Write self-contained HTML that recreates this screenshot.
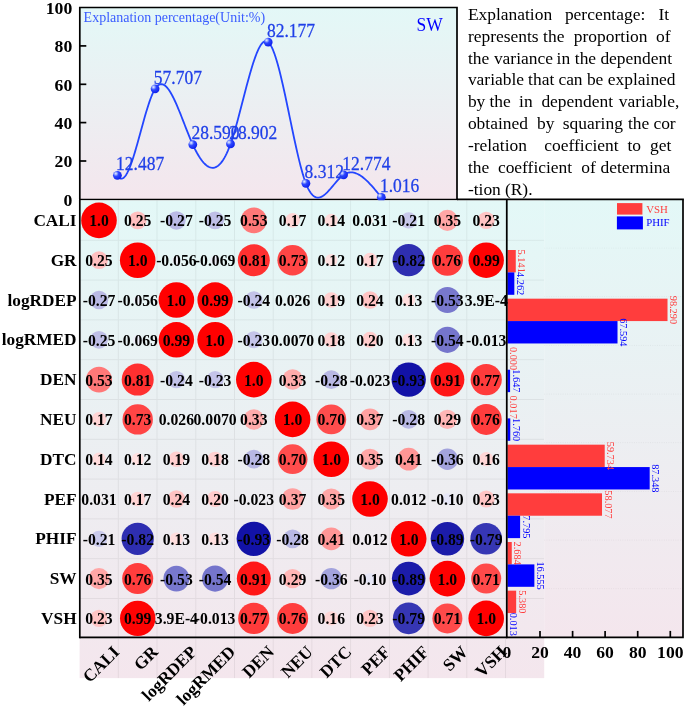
<!DOCTYPE html>
<html><head><meta charset="utf-8"><title>Correlation explanation</title>
<style>html,body{margin:0;padding:0;background:#fff}svg{display:block}text{font-family:"Liberation Serif", "Times New Roman", serif}</style></head><body>
<svg width="685" height="706" viewBox="0 0 685 706">
<defs>
<linearGradient id="g1" x1="0" y1="0" x2="0" y2="1"><stop offset="0" stop-color="#e3f8f7"/><stop offset="1" stop-color="#f4e6ed"/></linearGradient>
<radialGradient id="ball" cx="0.32" cy="0.3" r="0.8"><stop offset="0" stop-color="#e6ecff"/><stop offset="0.12" stop-color="#b4c4ff"/><stop offset="0.4" stop-color="#2e48ff"/><stop offset="1" stop-color="#0818e8"/></radialGradient>
<clipPath id="ctop"><rect x="79.8" y="7.5" width="380.2" height="193.0"/></clipPath>
</defs>
<rect width="685" height="706" fill="#fff"/>
<rect x="79.8" y="7.5" width="377.2" height="191.9" fill="url(#g1)"/>
<g stroke="#000" stroke-width="1.7" fill="none">
<path d="M79.8 199.4 V7.5 H457.0 V199.4"/>
<path d="M79.0 199.55 H457.9" stroke-width="1.4"/>
<path d="M79.8 161.0 h6.5"/>
<path d="M79.8 122.6 h6.5"/>
<path d="M79.8 84.3 h6.5"/>
<path d="M79.8 45.9 h6.5"/>
</g>
<g font-weight="bold" font-size="17.7" text-anchor="end" fill="#000">
<text x="72.3" y="205.6">0</text>
<text x="72.3" y="167.2">20</text>
<text x="72.3" y="128.8">40</text>
<text x="72.3" y="90.5">60</text>
<text x="72.3" y="52.1">80</text>
<text x="72.3" y="13.7">100</text>
</g>
<text x="83.6" y="21.8" font-size="14" fill="#3a5cff">Explanation percentage(Unit:%)</text>
<text x="416.6" y="28.44" font-size="17.5" fill="#0000ff" transform="scale(1 1.09)">SW</text>
<g clip-path="url(#ctop)">
<path d="M117.40 175.36 L118.50 176.96 L119.61 178.03 L120.71 178.58 L121.82 178.66 L122.92 178.27 L124.03 177.46 L125.13 176.25 L126.23 174.66 L127.34 172.72 L128.44 170.46 L129.55 167.90 L130.65 165.08 L131.75 162.01 L132.86 158.73 L133.96 155.26 L135.07 151.63 L136.17 147.87 L137.28 143.99 L138.38 140.04 L139.48 136.03 L140.59 131.99 L141.69 127.95 L142.80 123.94 L143.90 119.97 L145.00 116.09 L146.11 112.31 L147.21 108.67 L148.32 105.18 L149.42 101.88 L150.53 98.80 L151.63 95.95 L152.73 93.37 L153.84 91.08 L154.94 89.11 L156.05 87.48 L157.15 86.19 L158.25 85.23 L159.36 84.58 L160.46 84.23 L161.57 84.16 L162.67 84.36 L163.78 84.83 L164.88 85.53 L165.98 86.47 L167.09 87.63 L168.19 89.00 L169.30 90.55 L170.40 92.28 L171.51 94.18 L172.61 96.23 L173.71 98.42 L174.82 100.74 L175.92 103.16 L177.03 105.68 L178.13 108.29 L179.23 110.97 L180.34 113.71 L181.44 116.50 L182.55 119.31 L183.65 122.14 L184.76 124.98 L185.86 127.81 L186.96 130.62 L188.07 133.39 L189.17 136.11 L190.28 138.78 L191.38 141.36 L192.48 143.86 L193.59 146.26 L194.69 148.55 L195.80 150.72 L196.90 152.79 L198.01 154.73 L199.11 156.56 L200.21 158.26 L201.32 159.83 L202.42 161.27 L203.53 162.58 L204.63 163.75 L205.73 164.77 L206.84 165.66 L207.94 166.40 L209.05 166.99 L210.15 167.42 L211.26 167.70 L212.36 167.81 L213.46 167.77 L214.57 167.56 L215.67 167.17 L216.78 166.62 L217.88 165.89 L218.98 164.97 L220.09 163.88 L221.19 162.60 L222.30 161.13 L223.40 159.47 L224.51 157.61 L225.61 155.55 L226.71 153.29 L227.82 150.82 L228.92 148.15 L230.03 145.26 L231.13 142.16 L232.24 138.86 L233.34 135.36 L234.44 131.70 L235.55 127.90 L236.65 123.97 L237.76 119.92 L238.86 115.80 L239.96 111.60 L241.07 107.35 L242.17 103.08 L243.28 98.79 L244.38 94.51 L245.49 90.27 L246.59 86.07 L247.69 81.94 L248.80 77.90 L249.90 73.96 L251.01 70.15 L252.11 66.49 L253.21 63.00 L254.32 59.69 L255.42 56.59 L256.53 53.71 L257.63 51.07 L258.74 48.70 L259.84 46.62 L260.94 44.83 L262.05 43.37 L263.15 42.25 L264.26 41.50 L265.36 41.12 L266.46 41.15 L267.57 41.59 L268.67 42.48 L269.78 43.81 L270.88 45.55 L271.99 47.69 L273.09 50.20 L274.19 53.06 L275.30 56.25 L276.40 59.74 L277.51 63.51 L278.61 67.54 L279.72 71.80 L280.82 76.27 L281.92 80.93 L283.03 85.75 L284.13 90.71 L285.24 95.80 L286.34 100.98 L287.44 106.23 L288.55 111.52 L289.65 116.85 L290.76 122.18 L291.86 127.49 L292.97 132.75 L294.07 137.95 L295.17 143.06 L296.28 148.06 L297.38 152.92 L298.49 157.62 L299.59 162.14 L300.69 166.46 L301.80 170.54 L302.90 174.38 L304.01 177.94 L305.11 181.21 L306.22 184.16 L307.32 186.77 L308.42 189.07 L309.53 191.06 L310.63 192.76 L311.74 194.18 L312.84 195.33 L313.94 196.23 L315.05 196.90 L316.15 197.34 L317.26 197.56 L318.36 197.59 L319.47 197.44 L320.57 197.11 L321.67 196.63 L322.78 196.00 L323.88 195.25 L324.99 194.37 L326.09 193.39 L327.19 192.33 L328.30 191.18 L329.40 189.98 L330.51 188.72 L331.61 187.43 L332.72 186.11 L333.82 184.79 L334.92 183.47 L336.03 182.17 L337.13 180.90 L338.24 179.68 L339.34 178.51 L340.45 177.42 L341.55 176.41 L342.65 175.50 L343.76 174.71 L344.86 174.03 L345.97 173.48 L347.07 173.04 L348.17 172.71 L349.28 172.50 L350.38 172.39 L351.49 172.38 L352.59 172.46 L353.70 172.65 L354.80 172.92 L355.90 173.28 L357.01 173.73 L358.11 174.25 L359.22 174.85 L360.32 175.53 L361.42 176.27 L362.53 177.08 L363.63 177.95 L364.74 178.88 L365.84 179.86 L366.95 180.89 L368.05 181.97 L369.15 183.10 L370.26 184.26 L371.36 185.46 L372.47 186.70 L373.57 187.96 L374.67 189.25 L375.78 190.56 L376.88 191.89 L377.99 193.23 L379.09 194.58 L380.20 195.94 L381.30 197.31" fill="none" stroke="#2346ff" stroke-width="1.8" stroke-linejoin="round"/>
<circle cx="117.40" cy="175.36" r="4.4" fill="url(#ball)"/>
<circle cx="155.10" cy="88.86" r="4.4" fill="url(#ball)"/>
<circle cx="192.80" cy="144.56" r="4.4" fill="url(#ball)"/>
<circle cx="230.50" cy="143.96" r="4.4" fill="url(#ball)"/>
<circle cx="268.20" cy="42.05" r="4.4" fill="url(#ball)"/>
<circle cx="305.90" cy="183.35" r="4.4" fill="url(#ball)"/>
<circle cx="343.60" cy="174.81" r="4.4" fill="url(#ball)"/>
<circle cx="381.30" cy="197.31" r="4.4" fill="url(#ball)"/>
</g>
<g font-size="17.5" fill="#1f3fe8" stroke="#1f3fe8" stroke-width="0.25" transform="scale(1 1.090)">
<text x="116.1" y="156.02">12.487</text>
<text x="153.8" y="76.66">57.707</text>
<text x="191.5" y="127.76">28.590</text>
<text x="229.2" y="127.21">28.902</text>
<text x="266.9" y="33.71">82.177</text>
<text x="304.6" y="163.35">8.312</text>
<text x="342.3" y="155.52">12.774</text>
<text x="380.0" y="176.15">1.016</text>
</g>
<g font-size="17.45" fill="#000">
<text y="19.8"><tspan x="467.9">Explanation</tspan> <tspan x="564.9">percentage:</tspan> <tspan x="658.5">It</tspan></text>
<text y="41.7"><tspan x="467.9">represents</tspan> <tspan x="543.1">the</tspan> <tspan x="573.8">proportion</tspan> <tspan x="656.0">of</tspan></text>
<text y="63.5"><tspan x="467.9">the</tspan> <tspan x="493.9">variance</tspan> <tspan x="556.6">in</tspan> <tspan x="574.8">the</tspan> <tspan x="600.4">dependent</tspan></text>
<text y="85.3"><tspan x="467.9">variable</tspan> <tspan x="528.1">that</tspan> <tspan x="558.4">can</tspan> <tspan x="586.9">be</tspan> <tspan x="607.8">explained</tspan></text>
<text y="107.1"><tspan x="467.9">by</tspan> <tspan x="489.4">the</tspan> <tspan x="519.1">in</tspan> <tspan x="541.4">dependent</tspan> <tspan x="618.8">variable,</tspan></text>
<text y="129.0"><tspan x="467.9">obtained</tspan> <tspan x="537.1">by</tspan> <tspan x="562.8">squaring</tspan> <tspan x="628.0">the</tspan> <tspan x="653.4">cor</tspan></text>
<text y="150.8"><tspan x="467.9">-relation</tspan> <tspan x="544.3">coefficient</tspan> <tspan x="627.4">to</tspan> <tspan x="650.1">get</tspan></text>
<text y="172.6"><tspan x="467.9">the</tspan> <tspan x="497.9">coefficient</tspan> <tspan x="581.3">of</tspan> <tspan x="600.5">determina</tspan></text>
<text y="194.6"><tspan x="467.9">-tion</tspan> <tspan x="504.9">(R).</tspan></text>
</g>
<rect x="79.6" y="200.5" width="464.6" height="477.6" fill="url(#g1)"/>
<g stroke="#000" stroke-width="1" fill="none" opacity="0.055">
<path d="M118.3 200.5 V678.1"/>
<path d="M157.0 200.5 V678.1"/>
<path d="M195.8 200.5 V678.1"/>
<path d="M234.5 200.5 V678.1"/>
<path d="M273.2 200.5 V678.1"/>
<path d="M311.9 200.5 V678.1"/>
<path d="M350.6 200.5 V678.1"/>
<path d="M389.4 200.5 V678.1"/>
<path d="M428.1 200.5 V678.1"/>
<path d="M466.8 200.5 V678.1"/>
<path d="M505.5 200.5 V678.1"/>
<path d="M79.6 240.3 H544.2"/>
<path d="M79.6 280.1 H544.2"/>
<path d="M79.6 319.9 H544.2"/>
<path d="M79.6 359.7 H544.2"/>
<path d="M79.6 399.5 H544.2"/>
<path d="M79.6 439.3 H544.2"/>
<path d="M79.6 479.1 H544.2"/>
<path d="M79.6 518.9 H544.2"/>
<path d="M79.6 558.7 H544.2"/>
<path d="M79.6 598.5 H544.2"/>
<path d="M79.6 638.3 H544.2"/>
</g>
<circle cx="99.0" cy="220.4" r="17.80" fill="#ff0000"/>
<circle cx="137.7" cy="220.4" r="8.90" fill="#ffbfbf"/>
<circle cx="176.4" cy="220.4" r="9.25" fill="#babae5"/>
<circle cx="215.1" cy="220.4" r="8.90" fill="#bfbfe7"/>
<circle cx="253.8" cy="220.4" r="12.96" fill="#ff7878"/>
<circle cx="292.6" cy="220.4" r="7.34" fill="#ffd4d4"/>
<circle cx="331.3" cy="220.4" r="6.66" fill="#ffdbdb"/>
<circle cx="370.0" cy="220.4" r="3.13" fill="#fff7f7"/>
<circle cx="408.7" cy="220.4" r="8.16" fill="#c9c9eb"/>
<circle cx="447.4" cy="220.4" r="10.53" fill="#ffa6a6"/>
<circle cx="486.2" cy="220.4" r="8.54" fill="#ffc4c4"/>
<circle cx="99.0" cy="260.2" r="8.90" fill="#ffbfbf"/>
<circle cx="137.7" cy="260.2" r="17.80" fill="#ff0000"/>
<circle cx="176.4" cy="260.2" r="4.21" fill="#f1f1fa"/>
<circle cx="215.1" cy="260.2" r="4.68" fill="#ededf8"/>
<circle cx="253.8" cy="260.2" r="16.02" fill="#ff3030"/>
<circle cx="292.6" cy="260.2" r="15.21" fill="#ff4545"/>
<circle cx="331.3" cy="260.2" r="6.17" fill="#ffe0e0"/>
<circle cx="370.0" cy="260.2" r="7.34" fill="#ffd4d4"/>
<circle cx="408.7" cy="260.2" r="16.12" fill="#2e2eb1"/>
<circle cx="447.4" cy="260.2" r="15.52" fill="#ff3d3d"/>
<circle cx="486.2" cy="260.2" r="17.71" fill="#ff0303"/>
<circle cx="99.0" cy="300.0" r="9.25" fill="#babae5"/>
<circle cx="137.7" cy="300.0" r="4.21" fill="#f1f1fa"/>
<circle cx="176.4" cy="300.0" r="17.80" fill="#ff0000"/>
<circle cx="215.1" cy="300.0" r="17.71" fill="#ff0303"/>
<circle cx="253.8" cy="300.0" r="8.72" fill="#c2c2e8"/>
<circle cx="292.6" cy="300.0" r="2.87" fill="#fff8f8"/>
<circle cx="331.3" cy="300.0" r="7.76" fill="#ffcfcf"/>
<circle cx="370.0" cy="300.0" r="8.72" fill="#ffc2c2"/>
<circle cx="408.7" cy="300.0" r="6.42" fill="#ffdede"/>
<circle cx="447.4" cy="300.0" r="12.96" fill="#7878cd"/>
<circle cx="99.0" cy="339.8" r="8.90" fill="#bfbfe7"/>
<circle cx="137.7" cy="339.8" r="4.68" fill="#ededf8"/>
<circle cx="176.4" cy="339.8" r="17.71" fill="#ff0303"/>
<circle cx="215.1" cy="339.8" r="17.80" fill="#ff0000"/>
<circle cx="253.8" cy="339.8" r="8.54" fill="#c4c4e9"/>
<circle cx="292.6" cy="339.8" r="1.49" fill="#fffdfd"/>
<circle cx="331.3" cy="339.8" r="7.55" fill="#ffd1d1"/>
<circle cx="370.0" cy="339.8" r="7.96" fill="#ffcccc"/>
<circle cx="408.7" cy="339.8" r="6.42" fill="#ffdede"/>
<circle cx="447.4" cy="339.8" r="13.08" fill="#7575cc"/>
<circle cx="486.2" cy="339.8" r="2.03" fill="#fcfcfe"/>
<circle cx="99.0" cy="379.6" r="12.96" fill="#ff7878"/>
<circle cx="137.7" cy="379.6" r="16.02" fill="#ff3030"/>
<circle cx="176.4" cy="379.6" r="8.72" fill="#c2c2e8"/>
<circle cx="215.1" cy="379.6" r="8.54" fill="#c4c4e9"/>
<circle cx="253.8" cy="379.6" r="17.80" fill="#ff0000"/>
<circle cx="292.6" cy="379.6" r="10.23" fill="#ffabab"/>
<circle cx="331.3" cy="379.6" r="9.42" fill="#b8b8e4"/>
<circle cx="370.0" cy="379.6" r="2.70" fill="#f9f9fd"/>
<circle cx="408.7" cy="379.6" r="17.17" fill="#1212a7"/>
<circle cx="447.4" cy="379.6" r="16.98" fill="#ff1717"/>
<circle cx="486.2" cy="379.6" r="15.62" fill="#ff3b3b"/>
<circle cx="99.0" cy="419.4" r="7.34" fill="#ffd4d4"/>
<circle cx="137.7" cy="419.4" r="15.21" fill="#ff4545"/>
<circle cx="176.4" cy="419.4" r="2.87" fill="#fff8f8"/>
<circle cx="215.1" cy="419.4" r="1.49" fill="#fffdfd"/>
<circle cx="253.8" cy="419.4" r="10.23" fill="#ffabab"/>
<circle cx="292.6" cy="419.4" r="17.80" fill="#ff0000"/>
<circle cx="331.3" cy="419.4" r="14.89" fill="#ff4d4d"/>
<circle cx="370.0" cy="419.4" r="10.83" fill="#ffa1a1"/>
<circle cx="408.7" cy="419.4" r="9.42" fill="#b8b8e4"/>
<circle cx="447.4" cy="419.4" r="9.59" fill="#ffb5b5"/>
<circle cx="486.2" cy="419.4" r="15.52" fill="#ff3d3d"/>
<circle cx="99.0" cy="459.2" r="6.66" fill="#ffdbdb"/>
<circle cx="137.7" cy="459.2" r="6.17" fill="#ffe0e0"/>
<circle cx="176.4" cy="459.2" r="7.76" fill="#ffcfcf"/>
<circle cx="215.1" cy="459.2" r="7.55" fill="#ffd1d1"/>
<circle cx="253.8" cy="459.2" r="9.42" fill="#b8b8e4"/>
<circle cx="292.6" cy="459.2" r="14.89" fill="#ff4d4d"/>
<circle cx="331.3" cy="459.2" r="17.80" fill="#ff0000"/>
<circle cx="370.0" cy="459.2" r="10.53" fill="#ffa6a6"/>
<circle cx="408.7" cy="459.2" r="11.40" fill="#ff9696"/>
<circle cx="447.4" cy="459.2" r="10.68" fill="#a3a3dd"/>
<circle cx="486.2" cy="459.2" r="7.12" fill="#ffd6d6"/>
<circle cx="99.0" cy="499.0" r="3.13" fill="#fff7f7"/>
<circle cx="137.7" cy="499.0" r="7.34" fill="#ffd4d4"/>
<circle cx="176.4" cy="499.0" r="8.72" fill="#ffc2c2"/>
<circle cx="215.1" cy="499.0" r="7.96" fill="#ffcccc"/>
<circle cx="253.8" cy="499.0" r="2.70" fill="#f9f9fd"/>
<circle cx="292.6" cy="499.0" r="10.83" fill="#ffa1a1"/>
<circle cx="331.3" cy="499.0" r="10.53" fill="#ffa6a6"/>
<circle cx="370.0" cy="499.0" r="17.80" fill="#ff0000"/>
<circle cx="408.7" cy="499.0" r="1.95" fill="#fffcfc"/>
<circle cx="447.4" cy="499.0" r="5.63" fill="#e6e6f6"/>
<circle cx="486.2" cy="499.0" r="8.54" fill="#ffc4c4"/>
<circle cx="99.0" cy="538.8" r="8.16" fill="#c9c9eb"/>
<circle cx="137.7" cy="538.8" r="16.12" fill="#2e2eb1"/>
<circle cx="176.4" cy="538.8" r="6.42" fill="#ffdede"/>
<circle cx="215.1" cy="538.8" r="6.42" fill="#ffdede"/>
<circle cx="253.8" cy="538.8" r="17.17" fill="#1212a7"/>
<circle cx="292.6" cy="538.8" r="9.42" fill="#b8b8e4"/>
<circle cx="331.3" cy="538.8" r="11.40" fill="#ff9696"/>
<circle cx="370.0" cy="538.8" r="1.95" fill="#fffcfc"/>
<circle cx="408.7" cy="538.8" r="17.80" fill="#ff0000"/>
<circle cx="447.4" cy="538.8" r="16.79" fill="#1c1caa"/>
<circle cx="486.2" cy="538.8" r="15.82" fill="#3636b4"/>
<circle cx="99.0" cy="578.6" r="10.53" fill="#ffa6a6"/>
<circle cx="137.7" cy="578.6" r="15.52" fill="#ff3d3d"/>
<circle cx="176.4" cy="578.6" r="12.96" fill="#7878cd"/>
<circle cx="215.1" cy="578.6" r="13.08" fill="#7575cc"/>
<circle cx="253.8" cy="578.6" r="16.98" fill="#ff1717"/>
<circle cx="292.6" cy="578.6" r="9.59" fill="#ffb5b5"/>
<circle cx="331.3" cy="578.6" r="10.68" fill="#a3a3dd"/>
<circle cx="370.0" cy="578.6" r="5.63" fill="#e6e6f6"/>
<circle cx="408.7" cy="578.6" r="16.79" fill="#1c1caa"/>
<circle cx="447.4" cy="578.6" r="17.80" fill="#ff0000"/>
<circle cx="486.2" cy="578.6" r="15.00" fill="#ff4a4a"/>
<circle cx="99.0" cy="618.4" r="8.54" fill="#ffc4c4"/>
<circle cx="137.7" cy="618.4" r="17.71" fill="#ff0303"/>
<circle cx="215.1" cy="618.4" r="2.03" fill="#fcfcfe"/>
<circle cx="253.8" cy="618.4" r="15.62" fill="#ff3b3b"/>
<circle cx="292.6" cy="618.4" r="15.52" fill="#ff3d3d"/>
<circle cx="331.3" cy="618.4" r="7.12" fill="#ffd6d6"/>
<circle cx="370.0" cy="618.4" r="8.54" fill="#ffc4c4"/>
<circle cx="408.7" cy="618.4" r="15.82" fill="#3636b4"/>
<circle cx="447.4" cy="618.4" r="15.00" fill="#ff4a4a"/>
<circle cx="486.2" cy="618.4" r="17.80" fill="#ff0000"/>
<rect x="544.2" y="199.4" width="138.8" height="438.0" fill="url(#g1)"/>
<g stroke="#000" stroke-width="0.8" stroke-dasharray="1 1.3" fill="none" opacity="0.06">
<path d="M544.2 248.1 H683.0"/>
<path d="M544.2 296.7 H683.0"/>
<path d="M544.2 345.4 H683.0"/>
<path d="M544.2 394.1 H683.0"/>
<path d="M544.2 442.7 H683.0"/>
<path d="M544.2 491.4 H683.0"/>
<path d="M544.2 540.1 H683.0"/>
<path d="M544.2 588.7 H683.0"/>
</g>
<rect x="507.4" y="250.00" width="8.37" height="22.40" fill="#ff3d3d"/>
<rect x="507.4" y="272.40" width="6.94" height="22.40" fill="#0000ff"/>
<rect x="507.4" y="298.67" width="160.11" height="22.40" fill="#ff3d3d"/>
<rect x="507.4" y="321.07" width="110.11" height="22.40" fill="#0000ff"/>
<rect x="507.4" y="369.73" width="2.68" height="22.40" fill="#0000ff"/>
<rect x="507.4" y="418.40" width="2.87" height="22.40" fill="#0000ff"/>
<rect x="507.4" y="444.67" width="97.31" height="22.40" fill="#ff3d3d"/>
<rect x="507.4" y="467.07" width="142.29" height="22.40" fill="#0000ff"/>
<rect x="507.4" y="493.33" width="94.61" height="22.40" fill="#ff3d3d"/>
<rect x="507.4" y="515.73" width="12.70" height="22.40" fill="#0000ff"/>
<rect x="507.4" y="542.00" width="4.37" height="22.40" fill="#ff3d3d"/>
<rect x="507.4" y="564.40" width="26.97" height="22.40" fill="#0000ff"/>
<rect x="507.4" y="590.67" width="8.76" height="22.40" fill="#ff3d3d"/>
<g font-size="10.3" text-anchor="middle">
<text transform="translate(518.4 261.2) rotate(90)" fill="#ff3d3d">5.141</text>
<text transform="translate(516.9 283.6) rotate(90)" fill="#0000ff">4.262</text>
<text transform="translate(670.1 309.9) rotate(90)" fill="#ff3d3d">98.290</text>
<text transform="translate(620.1 332.3) rotate(90)" fill="#0000ff">67.594</text>
<text transform="translate(510.0 358.5) rotate(90)" fill="#ff3d3d">0.000</text>
<text transform="translate(512.7 380.9) rotate(90)" fill="#0000ff">1.647</text>
<text transform="translate(510.0 407.2) rotate(90)" fill="#ff3d3d">0.017</text>
<text transform="translate(512.9 429.6) rotate(90)" fill="#0000ff">1.760</text>
<text transform="translate(607.3 455.9) rotate(90)" fill="#ff3d3d">59.734</text>
<text transform="translate(652.3 478.3) rotate(90)" fill="#0000ff">87.348</text>
<text transform="translate(604.6 504.5) rotate(90)" fill="#ff3d3d">58.077</text>
<text transform="translate(522.7 526.9) rotate(90)" fill="#0000ff">7.795</text>
<text transform="translate(514.4 553.2) rotate(90)" fill="#ff3d3d">2.684</text>
<text transform="translate(537.0 575.6) rotate(90)" fill="#0000ff">16.555</text>
<text transform="translate(518.8 601.9) rotate(90)" fill="#ff3d3d">5.380</text>
<text transform="translate(510.0 624.3) rotate(90)" fill="#0000ff">0.013</text>
</g>
<g font-weight="bold" font-size="15.7" text-anchor="middle" fill="#000" transform="scale(1 1.090)">
<text y="207.71"><tspan x="99.0">1.0</tspan><tspan x="137.7">0.25</tspan><tspan x="176.4">-0.27</tspan><tspan x="215.1">-0.25</tspan><tspan x="253.8">0.53</tspan><tspan x="292.6">0.17</tspan><tspan x="331.3">0.14</tspan><tspan x="370.0">0.031</tspan><tspan x="408.7">-0.21</tspan><tspan x="447.4">0.35</tspan><tspan x="486.2">0.23</tspan></text>
<text y="244.22"><tspan x="99.0">0.25</tspan><tspan x="137.7">1.0</tspan><tspan x="176.4">-0.056</tspan><tspan x="215.1">-0.069</tspan><tspan x="253.8">0.81</tspan><tspan x="292.6">0.73</tspan><tspan x="331.3">0.12</tspan><tspan x="370.0">0.17</tspan><tspan x="408.7">-0.82</tspan><tspan x="447.4">0.76</tspan><tspan x="486.2">0.99</tspan></text>
<text y="280.73"><tspan x="99.0">-0.27</tspan><tspan x="137.7">-0.056</tspan><tspan x="176.4">1.0</tspan><tspan x="215.1">0.99</tspan><tspan x="253.8">-0.24</tspan><tspan x="292.6">0.026</tspan><tspan x="331.3">0.19</tspan><tspan x="370.0">0.24</tspan><tspan x="408.7">0.13</tspan><tspan x="447.4">-0.53</tspan><tspan x="486.2">3.9E-4</tspan></text>
<text y="317.25"><tspan x="99.0">-0.25</tspan><tspan x="137.7">-0.069</tspan><tspan x="176.4">0.99</tspan><tspan x="215.1">1.0</tspan><tspan x="253.8">-0.23</tspan><tspan x="292.6">0.0070</tspan><tspan x="331.3">0.18</tspan><tspan x="370.0">0.20</tspan><tspan x="408.7">0.13</tspan><tspan x="447.4">-0.54</tspan><tspan x="486.2">-0.013</tspan></text>
<text y="353.76"><tspan x="99.0">0.53</tspan><tspan x="137.7">0.81</tspan><tspan x="176.4">-0.24</tspan><tspan x="215.1">-0.23</tspan><tspan x="253.8">1.0</tspan><tspan x="292.6">0.33</tspan><tspan x="331.3">-0.28</tspan><tspan x="370.0">-0.023</tspan><tspan x="408.7">-0.93</tspan><tspan x="447.4">0.91</tspan><tspan x="486.2">0.77</tspan></text>
<text y="390.28"><tspan x="99.0">0.17</tspan><tspan x="137.7">0.73</tspan><tspan x="176.4">0.026</tspan><tspan x="215.1">0.0070</tspan><tspan x="253.8">0.33</tspan><tspan x="292.6">1.0</tspan><tspan x="331.3">0.70</tspan><tspan x="370.0">0.37</tspan><tspan x="408.7">-0.28</tspan><tspan x="447.4">0.29</tspan><tspan x="486.2">0.76</tspan></text>
<text y="426.79"><tspan x="99.0">0.14</tspan><tspan x="137.7">0.12</tspan><tspan x="176.4">0.19</tspan><tspan x="215.1">0.18</tspan><tspan x="253.8">-0.28</tspan><tspan x="292.6">0.70</tspan><tspan x="331.3">1.0</tspan><tspan x="370.0">0.35</tspan><tspan x="408.7">0.41</tspan><tspan x="447.4">-0.36</tspan><tspan x="486.2">0.16</tspan></text>
<text y="463.30"><tspan x="99.0">0.031</tspan><tspan x="137.7">0.17</tspan><tspan x="176.4">0.24</tspan><tspan x="215.1">0.20</tspan><tspan x="253.8">-0.023</tspan><tspan x="292.6">0.37</tspan><tspan x="331.3">0.35</tspan><tspan x="370.0">1.0</tspan><tspan x="408.7">0.012</tspan><tspan x="447.4">-0.10</tspan><tspan x="486.2">0.23</tspan></text>
<text y="499.82"><tspan x="99.0">-0.21</tspan><tspan x="137.7">-0.82</tspan><tspan x="176.4">0.13</tspan><tspan x="215.1">0.13</tspan><tspan x="253.8">-0.93</tspan><tspan x="292.6">-0.28</tspan><tspan x="331.3">0.41</tspan><tspan x="370.0">0.012</tspan><tspan x="408.7">1.0</tspan><tspan x="447.4">-0.89</tspan><tspan x="486.2">-0.79</tspan></text>
<text y="536.33"><tspan x="99.0">0.35</tspan><tspan x="137.7">0.76</tspan><tspan x="176.4">-0.53</tspan><tspan x="215.1">-0.54</tspan><tspan x="253.8">0.91</tspan><tspan x="292.6">0.29</tspan><tspan x="331.3">-0.36</tspan><tspan x="370.0">-0.10</tspan><tspan x="408.7">-0.89</tspan><tspan x="447.4">1.0</tspan><tspan x="486.2">0.71</tspan></text>
<text y="572.84"><tspan x="99.0">0.23</tspan><tspan x="137.7">0.99</tspan><tspan x="176.4">3.9E-4</tspan><tspan x="215.1">-0.013</tspan><tspan x="253.8">0.77</tspan><tspan x="292.6">0.76</tspan><tspan x="331.3">0.16</tspan><tspan x="370.0">0.23</tspan><tspan x="408.7">-0.79</tspan><tspan x="447.4">0.71</tspan><tspan x="486.2">1.0</tspan></text>
</g>
<g stroke="#000" stroke-width="1.7" fill="none">
<path d="M506.8 199.4 V637.4 H683.0 V199.4"/>
<path d="M79.6 637.4 H507.4"/>
<path d="M79.8 199.4 V638.2"/>
<path d="M457.0 199.4 H683.9"/>
<path d="M540.0 637.4 v-6.5"/>
<path d="M572.6 637.4 v-6.5"/>
<path d="M605.1 637.4 v-6.5"/>
<path d="M637.7 637.4 v-6.5"/>
<path d="M670.3 637.4 v-6.5"/>
</g>
<g font-weight="bold" font-size="17.6" text-anchor="middle" fill="#000">
<text x="506.8" y="658.3">0</text>
<text x="540.0" y="658.3">20</text>
<text x="572.6" y="658.3">40</text>
<text x="605.1" y="658.3">60</text>
<text x="637.7" y="658.3">80</text>
<text x="670.3" y="658.3">100</text>
</g>
<rect x="617" y="203.1" width="25.4" height="11.5" fill="#ff3d3d"/>
<rect x="616.9" y="216.4" width="26" height="13" fill="#0000ff"/>
<text x="646.2" y="212.6" font-size="10.8" fill="#ff3d3d">VSH</text>
<text x="646.2" y="226.3" font-size="10.8" fill="#0000ff">PHIF</text>
<g font-weight="bold" font-size="17.3" text-anchor="end" fill="#000">
<text x="76.6" y="226.0">CALI</text>
<text x="76.6" y="265.8">GR</text>
<text x="76.6" y="305.6">logRDEP</text>
<text x="76.6" y="345.4">logRMED</text>
<text x="76.6" y="385.2">DEN</text>
<text x="76.6" y="425.0">NEU</text>
<text x="76.6" y="464.8">DTC</text>
<text x="76.6" y="504.6">PEF</text>
<text x="76.6" y="544.4">PHIF</text>
<text x="76.6" y="584.2">SW</text>
<text x="76.6" y="624.0">VSH</text>
</g>
<g font-weight="bold" font-size="17.3" text-anchor="end" fill="#000">
<text transform="translate(120.3 653.0) rotate(-45)">CALI</text>
<text transform="translate(159.0 653.0) rotate(-45)">GR</text>
<text transform="translate(197.7 653.0) rotate(-45)">logRDEP</text>
<text transform="translate(236.4 653.0) rotate(-45)">logRMED</text>
<text transform="translate(275.1 653.0) rotate(-45)">DEN</text>
<text transform="translate(313.9 653.0) rotate(-45)">NEU</text>
<text transform="translate(352.6 653.0) rotate(-45)">DTC</text>
<text transform="translate(391.3 653.0) rotate(-45)">PEF</text>
<text transform="translate(430.0 653.0) rotate(-45)">PHIF</text>
<text transform="translate(468.7 653.0) rotate(-45)">SW</text>
<text transform="translate(507.5 653.0) rotate(-45)">VSH</text>
</g>
</svg></body></html>
